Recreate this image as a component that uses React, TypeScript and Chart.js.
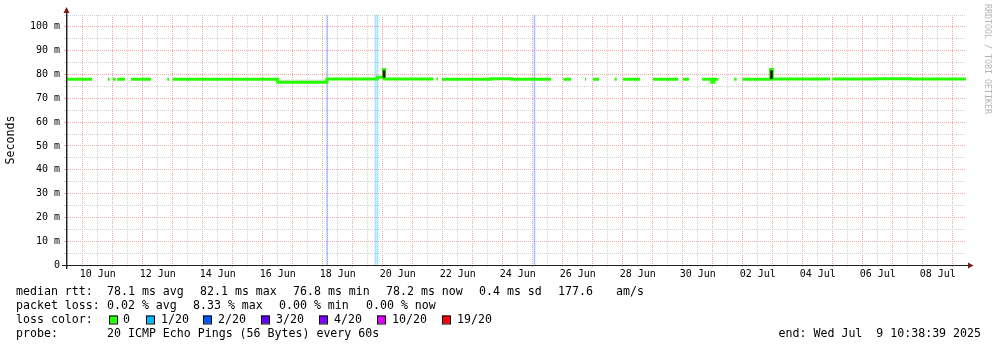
import React, { useEffect, useRef } from "react";
import { Chart, registerables } from "chart.js";

Chart.register(...registerables);

// ---- time axis: days since 2025-06-01 00:00 ----
const rangeStart = 8.4435; // Mon Jun  9 10:38:39 2025
const rangeEnd = 38.4435; // Wed Jul  9 10:38:39 2025

const xTickLabels = ["10 Jun", "12 Jun", "14 Jun", "16 Jun", "18 Jun", "20 Jun", "22 Jun", "24 Jun", "26 Jun", "28 Jun", "30 Jun", "02 Jul", "04 Jul", "06 Jul", "08 Jul"];
const xTickLabelDays = [9.5, 11.5, 13.5, 15.5, 17.5, 19.5, 21.5, 23.5, 25.5, 27.5, 29.5, 31.5, 33.5, 35.5, 37.5];

// ---- value axis (ms) ----
const yMin = 0;
const yMax = 105;
const yGridValues = [0, 5, 10, 15, 20, 25, 30, 35, 40, 45, 50, 55, 60, 65, 70, 75, 80, 85, 90, 95, 100, 105];
const yTickLabels = ["0", "", "10 m", "", "20 m", "", "30 m", "", "40 m", "", "50 m", "", "60 m", "", "70 m", "", "80 m", "", "90 m", "", "100 m", ""];

// ---- median rtt (ms), null = no data ----
const medianTimes = [
  8.49, 9.31, 9.32,
  9.84, 9.9, 9.91,
  10.01, 10.1, 10.11,
  10.15, 10.41, 10.42,
  10.61, 11.28, 11.29,
  11.82, 11.88, 11.89,
  12.0, 15.5, 17.14, 18.82, 19.03, 19.06, 20.69, 20.7,
  20.79, 20.84, 20.85,
  20.97, 22.6, 23.3, 24.61, 24.62,
  25.02, 25.28, 25.29,
  25.74, 25.78, 25.79,
  26.01, 26.21, 26.22,
  26.73, 26.8, 26.81,
  27.01, 27.58, 27.59,
  28.01, 28.85, 28.86,
  29.01, 29.21, 29.22,
  29.65, 29.97, 30.04, 30.19, 30.2,
  30.72, 30.8, 30.81,
  30.99, 31.93, 31.99, 33.91, 33.92,
  33.99, 35.4, 36.6, 38.44,
];
const medianValues = [
  78.0, 78.0, null,
  78.0, 78.0, null,
  78.0, 78.0, null,
  78.0, 78.0, null,
  78.0, 78.0, null,
  78.0, 78.0, null,
  78.0, 76.8, 78.1, 78.9, 82.1, 78.1, 78.1, null,
  78.1, 78.1, null,
  78.0, 78.2, 78.0, 78.0, null,
  78.0, 78.0, null,
  78.0, 78.0, null,
  78.0, 78.0, null,
  78.0, 78.0, null,
  78.0, 78.0, null,
  78.0, 78.0, null,
  78.0, 78.0, null,
  78.0, 76.8, 78.0, 78.0, null,
  78.0, 78.0, null,
  78.0, 82.1, 78.1, 78.1, null,
  78.1, 78.2, 78.1, 78.2,
];

// ---- smoke (ping spread) ----
const smokeTimes = [15.5, 17.14];
const smokeTop = [77.9, 77.9];
const smokeBottom = 76.8;
const spikeTimes = [19.045, 31.96];
const spikeLow = [78.8, 78.2];
const spikeHigh = [81.6, 81.6];

// ---- packet loss events ----
const lossTimes = [17.15, 18.76, 18.827, 24.06];
const lossLevels = [2, 1, 1, 2];
const lossColors = ["#26ff00", "#00b8ff", "#0059ff", "#5e00ff", "#7e00ff", "#dd00ff", "#ff0000"];
const lossLabels = ["0", "1/20", "2/20", "3/20", "4/20", "10/20", "19/20"];

// ---- legend text ----
const rttLegend = ["median rtt:", "78.1 ms avg", "82.1 ms max", "76.8 ms min", "78.2 ms now", "0.4 ms sd", "177.6", "am/s"];
const lossLegend = ["packet loss:", "0.02 % avg", "8.33 % max", "0.00 % min", "0.00 % now"];
const lossColorTitle = "loss color:";
const probeLegend = ["probe:", "20 ICMP Echo Pings (56 Bytes) every 60s"];
const endLegend = "end: Wed Jul  9 10:38:39 2025";
const watermark = "RRDTOOL / TOBI OETIKER";
const yTitle = "Seconds";

// ---- layout ----
const rttX = [16, 107, 200, 293, 386, 479, 558, 616];
const lossX = [16, 107, 193, 279, 366];
const boxX = [109, 146, 203, 261, 319, 377, 442];
const boxLabelX = [123, 161, 218, 276, 334, 392, 457];
const probeX = [16, 107];
const rowY = [291.5, 305.5, 319.5, 333.5];

const mono = "'DejaVu Sans Mono', monospace";
const majorGrid = "#eeaaaa";
const minorGrid = "#d2d2d2";

function rgba(hex: string, a: number) {
  const n = parseInt(hex.slice(1), 16);
  return `rgba(${(n >> 16) & 255},${(n >> 8) & 255},${n & 255},${a})`;
}

const decorPlugin = {
  id: "rrdDecor",
  afterDraw(chart: any) {
    const ctx = chart.ctx as CanvasRenderingContext2D;
    const area = chart.chartArea;
    const L = area.left;
    const B = area.bottom;
    const R = area.right;
    const T = area.top;
    ctx.save();
    // axes
    ctx.fillStyle = "#222";
    ctx.fillRect(L, T - 6, 1.4, B - T + 10);
    ctx.fillRect(L - 4, B, R - L + 9, 1);
    // arrows
    ctx.fillStyle = "#7d1a1a";
    ctx.beginPath();
    ctx.moveTo(L + 0.5, T - 8);
    ctx.lineTo(L - 2.5, T - 2);
    ctx.lineTo(L + 3.5, T - 2);
    ctx.closePath();
    ctx.fill();
    ctx.beginPath();
    ctx.moveTo(R + 7.5, B + 0.5);
    ctx.lineTo(R + 2, B - 2.5);
    ctx.lineTo(R + 2, B + 3.5);
    ctx.closePath();
    ctx.fill();

    // watermark
    ctx.save();
    ctx.translate(987, 4);
    ctx.rotate(Math.PI / 2);
    ctx.font = `8.3px ${mono}`;
    ctx.fillStyle = "#b4b4b4";
    ctx.textBaseline = "middle";
    ctx.textAlign = "left";
    ctx.fillText(watermark, 0, 0);
    ctx.restore();

    // legend
    ctx.font = `11.6px ${mono}`;
    ctx.fillStyle = "#000";
    ctx.textBaseline = "middle";
    ctx.textAlign = "left";
    rttLegend.forEach((t, i) => ctx.fillText(t, rttX[i], rowY[0]));
    lossLegend.forEach((t, i) => ctx.fillText(t, lossX[i], rowY[1]));
    ctx.fillText(lossColorTitle, 16, rowY[2]);
    lossLabels.forEach((t, i) => {
      ctx.fillStyle = lossColors[i];
      ctx.fillRect(boxX[i], rowY[2] - 4, 8, 8);
      ctx.strokeStyle = "#000";
      ctx.lineWidth = 1;
      ctx.strokeRect(boxX[i] + 0.5, rowY[2] - 3.5, 8, 8);
      ctx.fillStyle = "#000";
      ctx.fillText(t, boxLabelX[i], rowY[2]);
    });
    probeLegend.forEach((t, i) => ctx.fillText(t, probeX[i], rowY[3]));
    ctx.textAlign = "right";
    ctx.fillText(endLegend, 981, rowY[3]);
    ctx.restore();
  },
};

export default function App() {
  const ref = useRef<HTMLCanvasElement>(null);
  useEffect(() => {
    document.body.style.margin = "0";
    const canvas = ref.current;
    if (!canvas) return;
    const medianData = medianTimes.map((t, i) => ({ x: t, y: medianValues[i] }));
    const chart = new Chart(canvas, {
      type: "line",
      data: {
        datasets: [
          {
            type: "line",
            label: "smoke",
            data: smokeTimes.map((t, i) => ({ x: t, y: smokeTop[i] })),
            borderWidth: 0,
            borderColor: "rgba(0,0,0,0)",
            backgroundColor: "#e2e2e2",
            fill: { value: smokeBottom },
            stepped: "before",
            pointRadius: 0,
            order: 4,
          } as any,
          {
            type: "bar",
            label: "loss",
            data: lossTimes.map((t) => ({ x: t, y: [yMin, yMax] })),
            backgroundColor: lossLevels.map((l) => rgba(lossColors[l], 0.35)),
            borderWidth: 0,
            barThickness: 1,
            grouped: false,
            order: 3,
          } as any,
          {
            type: "line",
            label: "median rtt",
            data: medianData,
            borderColor: lossColors[0],
            borderWidth: 3,
            pointRadius: 0,
            stepped: "before",
            spanGaps: false,
            fill: false,
            borderCapStyle: "butt",
            order: 2,
          } as any,
          {
            type: "bar",
            label: "smoke peak",
            data: spikeTimes.map((t, i) => ({ x: t, y: [spikeLow[i], spikeHigh[i]] })),
            backgroundColor: "#2b1717",
            borderWidth: 0,
            barThickness: 2,
            grouped: false,
            order: 1,
          } as any,
        ],
      },
      options: {
        responsive: false,
        animation: false,
        events: [],
        layout: { padding: { top: 15, right: 31, bottom: 0, left: 0 } },
        plugins: { legend: { display: false }, tooltip: { enabled: false }, title: { display: false } },
        scales: {
          x: {
            type: "linear",
            min: rangeStart,
            max: rangeEnd,
            offset: false,
            afterBuildTicks: (s: any) => {
              const ticks: any[] = [];
              for (let v = Math.ceil(s.min * 2) / 2; v <= s.max; v += 0.5) ticks.push({ value: v });
              s.ticks = ticks;
            },
            afterFit: (s: any) => {
              s.height = 82;
            },
            grid: {
              offset: false,
              lineWidth: 1,
              tickLength: 2,
              color: (c: any) => (c.tick && Number.isInteger(c.tick.value) ? majorGrid : minorGrid),
            },
            border: { display: false, dash: [1, 1] },
            ticks: {
              autoSkip: false,
              maxRotation: 0,
              minRotation: 0,
              padding: 1,
              color: "#000",
              font: { family: mono, size: 10 },
              callback: (v: any) => {
                const i = xTickLabelDays.indexOf(Number(v));
                return i >= 0 ? xTickLabels[i] : "";
              },
            },
          },
          y: {
            type: "linear",
            min: yMin,
            max: yMax,
            afterBuildTicks: (s: any) => {
              s.ticks = yGridValues.map((v) => ({ value: v }));
            },
            afterFit: (s: any) => {
              s.width = 66;
            },
            grid: {
              lineWidth: 1,
              tickLength: 2,
              color: (c: any) => (c.tick && c.tick.value % 10 === 0 ? majorGrid : minorGrid),
            },
            border: { display: false, dash: [1, 1] },
            ticks: {
              autoSkip: false,
              padding: 4,
              color: "#000",
              font: { family: mono, size: 10 },
              callback: (v: any) => {
                const i = yGridValues.indexOf(Number(v));
                return i >= 0 ? yTickLabels[i] : "";
              },
            },
            title: {
              display: true,
              text: yTitle,
              color: "#000",
              font: { family: mono, size: 11.6 },
              padding: { top: 4, bottom: 0 },
            },
          },
        },
      } as any,
      plugins: [decorPlugin],
    });
    return () => chart.destroy();
  }, []);
  return <canvas ref={ref} width={997} height={347} style={{ display: "block", background: "#fff" }} />;
}
